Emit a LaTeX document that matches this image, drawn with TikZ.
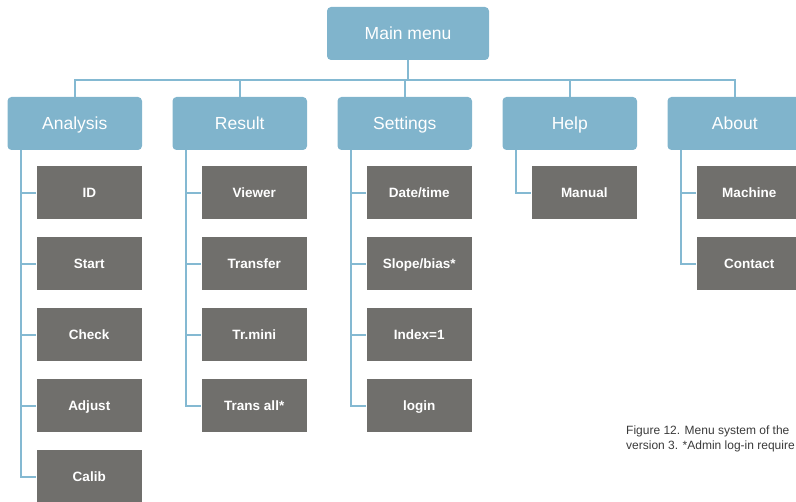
\documentclass[tikz,border=0pt]{standalone}
\usepackage{fontspec}
\setmainfont{Liberation Sans}
\definecolor{catblue}{HTML}{80B4CC}
\definecolor{linkblue}{HTML}{84B9D2}
\definecolor{subgray}{HTML}{706F6C}
\definecolor{captiongray}{HTML}{3A3A3A}
\begin{document}
\begin{tikzpicture}[x=1pt,y=-1pt,
  catbox/.style={fill=catblue,rounded corners=4pt,minimum width=134.5pt,minimum height=53pt,inner sep=0pt,text=white,text height=14pt,text depth=1.2pt,font=\fontsize{17.5}{20}\selectfont},
  subbox/.style={fill=subgray,minimum width=105.5pt,minimum height=53.5pt,inner sep=0pt,text=white,text height=11pt,text depth=1.3pt,font=\fontsize{13.5}{16}\selectfont\bfseries},
  link/.style={draw=linkblue,line width=2pt}]
\useasboundingbox (0,0) rectangle (796,502);
\clip (0,0) rectangle (796,502);
\node[catbox,minimum width=162pt] (main) at (408,33.5) {Main menu};
\foreach \n/\t [count=\k from 0] in {c1/Analysis,c2/Result,c3/Settings,c4/Help,c5/About}{
  \node[catbox] (\n) at ({7.5+165*\k+67.25},123.5) {\t};
}
\coordinate (bus) at (408,80);
% sub items
\foreach \t [count=\j from 0] in {ID,Start,Check,Adjust,Calib}{
  \node[subbox] (a\j) at ({7.5+29+52.75},{166+71*\j+26.75}) {\t};
}
\foreach \t [count=\j from 0] in {Viewer,Transfer,Tr.mini,Trans all*}{
  \node[subbox] (r\j) at ({172.5+29+52.75},{166+71*\j+26.75}) {\t};
}
\foreach \t [count=\j from 0] in {Date/time,Slope/bias*,Index=1,login}{
  \node[subbox] (s\j) at ({337.5+29+52.75},{166+71*\j+26.75}) {\t};
}
\node[subbox] (h0) at ({502.5+29+52.75},{166+26.75}) {Manual};
\foreach \t [count=\j from 0] in {Machine,Contact}{
  \node[subbox] (b\j) at ({667.5+29+52.75},{166+71*\j+26.75}) {\t};
}
% connectors
\draw[link] (main.south) -- (bus);
\draw[link] (c1.north) |- (bus) -| (c5.north);
\draw[link] (c2.north) -- (c2.north |- bus);
\draw[link] (c3.north) -- (c3.north |- bus);
\draw[link] (c4.north) -- (c4.north |- bus);
\foreach \j in {0,...,4}{\draw[link] ([xshift=14pt]c1.south west) |- (a\j.west);}
\foreach \j in {0,...,3}{\draw[link] ([xshift=14pt]c2.south west) |- (r\j.west);}
\foreach \j in {0,...,3}{\draw[link] ([xshift=14pt]c3.south west) |- (s\j.west);}
\draw[link] ([xshift=14pt]c4.south west) |- (h0.west);
\foreach \j in {0,1}{\draw[link] ([xshift=14pt]c5.south west) |- (b\j.west);}
% caption
\node[anchor=base west,inner sep=0pt,align=left,text=captiongray,font=\fontsize{12}{15}\selectfont] (cap) at (626,450) {Figure 12. Menu system of the\\version 3. *Admin log-in require};
\end{tikzpicture}
\end{document}
